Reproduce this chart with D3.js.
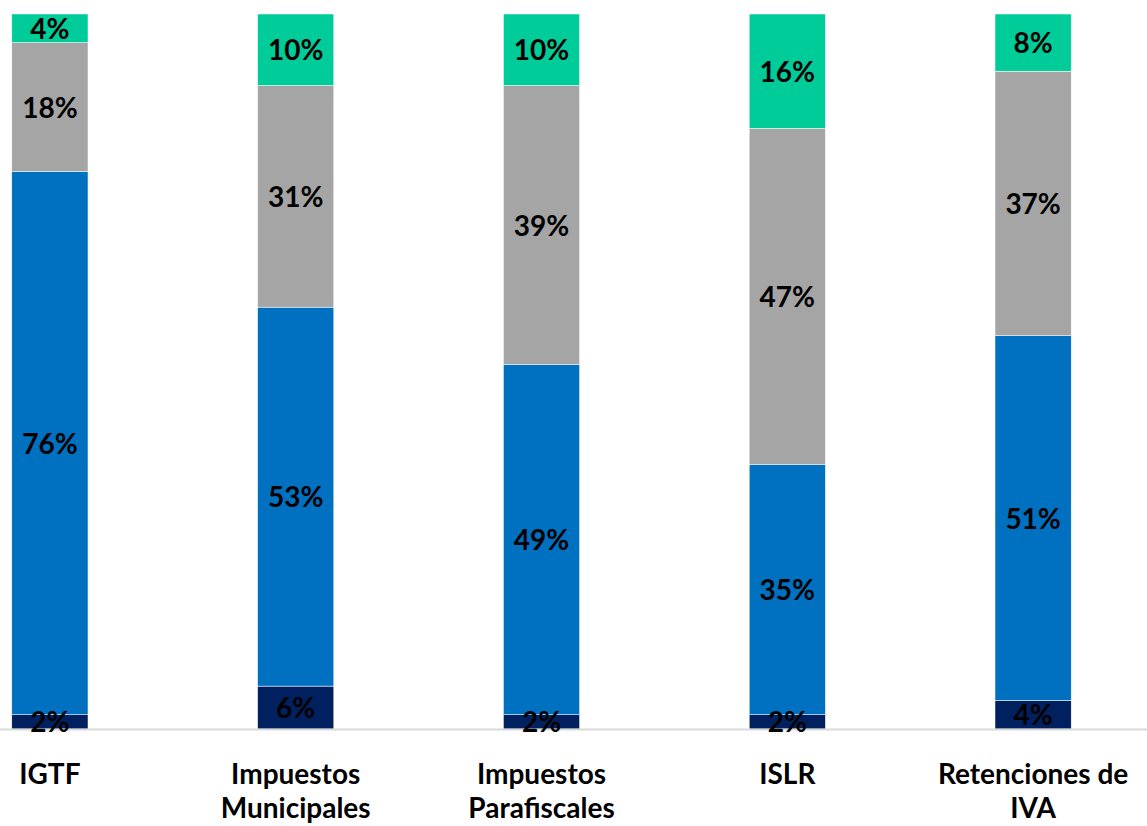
<!DOCTYPE html>
<html><head><meta charset="utf-8">
<script src="https://cdn.jsdelivr.net/npm/d3@7"></script>
<style>body{margin:0;background:#fff;}svg{display:block;font-family:Lato,"Open Sans",sans-serif;}</style>
</head><body>
<svg id="c" width="1147" height="826"></svg>
<script>
const categories = [["IGTF"], ["Impuestos","Municipales"], ["Impuestos","Parafiscales"], ["ISLR"], ["Retenciones de","IVA"]];
const seriesNames = ["s1","s2","s3","s4"];
const s1 = [2, 6, 2, 2, 4];
const s2 = [76, 53, 49, 35, 51];
const s3 = [18, 31, 39, 47, 37];
const s4 = [4, 10, 10, 16, 8];
const colors = ["#002060", "#0070C0", "#A5A5A5", "#00CC99"];

const svg = d3.select("#c");
const keys = categories.map((c,i)=>"c"+i);
const rows = keys.map((k,i)=>({key:k, s1:s1[i], s2:s2[i], s3:s3[i], s4:s4[i]}));
const stack = d3.stack().keys(seriesNames)(rows);

const x = d3.scaleBand().domain(keys).range([-73, 1156]).paddingInner(0.69).paddingOuter(0.345);
const y = d3.scaleLinear().domain([0,100]).range([729, 14]);

const g = svg.append("g");
stack.forEach((layer, li) => {
  g.selectAll(null).data(layer).enter().append("rect")
    .attr("x", d => x(d.data.key))
    .attr("width", x.bandwidth())
    .attr("y", d => y(d[1]))
    .attr("height", d => y(d[0]) - y(d[1]))
    .attr("fill", colors[li])
    .attr("stroke", "#fff").attr("stroke-width", 0.5);
});
// axis line
svg.append("line").attr("x1",0).attr("x2",1147).attr("y1",729.5).attr("y2",729.5)
  .attr("stroke","#D9D9D9").attr("stroke-width",2);

const lg = svg.append("g");
stack.forEach((layer, li) => {
  lg.selectAll(null).data(layer).enter().append("text")
    .attr("x", d => x(d.data.key) + x.bandwidth()/2)
    .attr("y", d => (y(d[0]) + y(d[1]))/2)
    .attr("dy", "0.38em")
    .attr("text-anchor","middle")
    .attr("font-size", 28).attr("font-weight","bold").attr("fill","#000")
    .text(d => (d[1]-d[0]) + "%");
});

const xAxis = svg.append("g");
categories.forEach((lines, i) => {
  const t = xAxis.append("text")
    .attr("x", x(keys[i]) + x.bandwidth()/2)
    .attr("y", 784)
    .attr("text-anchor","middle")
    .attr("font-size", 28).attr("font-weight","bold").attr("fill","#000");
  lines.forEach((l, j) => t.append("tspan").attr("x", x(keys[i]) + x.bandwidth()/2).attr("dy", j ? 34 : 0).text(l));
});
</script>
</body></html>
